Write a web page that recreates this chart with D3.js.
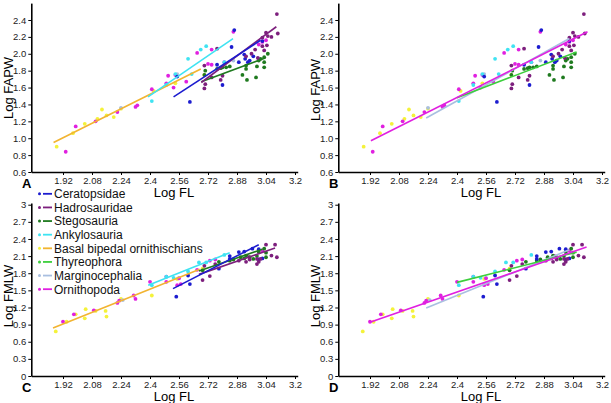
<!DOCTYPE html>
<html><head><meta charset="utf-8">
<script src="https://cdn.jsdelivr.net/npm/d3@7"></script>
<style>
body{margin:0;background:#fff;}
text{font-family:"Liberation Sans",Arial,sans-serif;}
</style></head>
<body><svg id="c" width="611" height="403"></svg>
<script>
// ---------- data ----------
const groups = ["Ceratopsidae","Hadrosauridae","Stegosauria","Ankylosauria","Basal bipedal ornithischians","Thyreophora","Marginocephalia","Ornithopoda"];
const pointColors = {"Ceratopsidae":"#1c1ccf","Hadrosauridae":"#7d1f7d","Stegosauria":"#1f7a1f","Ankylosauria":"#3fe3f2","Basal bipedal ornithischians":"#f4f23a","Thyreophora":"#3ccf3c","Marginocephalia":"#a9bfe0","Ornithopoda":"#e020e0"};
const lineColors  = {"Ceratopsidae":"#1c1ccf","Hadrosauridae":"#7d1f7d","Stegosauria":"#1f7a1f","Ankylosauria":"#3fe3f2","Basal bipedal ornithischians":"#f2b431","Thyreophora":"#3ccf3c","Marginocephalia":"#a9bfe0","Ornithopoda":"#e020e0"};

const xTickValues = [1.92,2.08,2.24,2.4,2.56,2.72,2.88,3.04,3.2];
const xTickLabels = ["1.92","2.08","2.24","2.4","2.56","2.72","2.88","3.04","3.2"];
const yTicksFAPW = [0.6,0.8,1.0,1.2,1.4,1.6,1.8,2.0,2.2,2.4];
const yLabelsFAPW = ["0.6","0.8","1.0","1.2","1.4","1.6","1.8","2.0","2.2","2.4"];
const yTicksFMLW = [0,0.3,0.6,0.9,1.2,1.5,1.8,2.1,2.4,2.7,3];
const yLabelsFMLW = ["0","0.3","0.6","0.9","1.2","1.5","1.8","2.1","2.4","2.7","3"];

// points: [log FL, log FAPW]
const fapwCeratopsidae = [[2.55,1.73],[2.62,1.43],[2.80,1.63],[2.77,1.87],[2.85,2.08],[2.865,2.28],[2.89,1.90],[2.92,1.99],[2.925,1.94],[2.94,1.90],[2.97,1.97],[3.02,2.15],[2.95,1.92]];
const fapwHadrosauridae = [[2.70,1.86],[2.70,1.59],[2.705,1.64],[2.77,2.06],[2.80,1.74],[2.79,1.69],[2.93,1.97],[2.96,2.0],[2.98,2.05],[2.995,1.95],[3.02,2.09],[3.02,2.19],[3.04,2.25],[3.05,2.21],[3.045,2.10],[3.10,2.47],[3.105,2.24],[3.07,2.20],[3.03,2.04],[2.74,1.72]];
const fapwStegosauria = [[2.70,1.75],[2.705,1.80],[2.77,1.82],[2.80,1.84],[2.82,1.84],[2.79,1.83],[2.91,1.75],[2.93,1.86],[2.93,1.82],[2.935,1.69],[2.985,1.72],[2.99,1.85],[3.0,1.92],[3.01,1.94],[3.03,1.96],[3.03,1.90],[3.03,1.84],[3.05,2.0],[2.84,1.85]];
const fapwAnkylosauria = [[2.41,1.44],[2.49,1.63],[2.61,1.94],[2.68,2.05],[2.71,2.09],[2.81,1.90],[2.54,1.76],[2.63,1.76]];
const fapwBasal = [[1.885,0.90],[1.975,1.06],[2.04,1.17],[2.11,1.23],[2.135,1.34],[2.16,1.27],[2.20,1.25],[2.24,1.35],[2.42,1.56],[2.54,1.65],[2.70,1.75]];
const fapwMarginocephalia = [[2.24,1.36],[2.55,1.76],[2.86,1.92]];
const fapwOrnithopoda = [[1.935,0.84],[1.99,1.14],[2.10,1.20],[2.22,1.31],[2.32,1.37],[2.33,1.39],[2.41,1.58],[2.49,1.65],[2.50,1.74],[2.54,1.75],[2.53,1.60],[2.60,1.67],[2.66,2.01],[2.74,2.05],[2.74,1.87],[2.81,1.90],[2.86,2.26],[3.0,2.11],[3.02,2.14],[3.04,2.16],[2.72,1.88]];

// points: [log FL, log FMLW]
const fmlwCeratopsidae = [[2.545,1.39],[2.62,1.61],[2.61,1.76],[2.84,2.05],[2.84,2.10],[2.89,2.17],[2.92,2.18],[2.965,2.23],[3.0,2.22],[3.02,2.06],[3.0,2.04],[2.78,1.88]];
const fmlwHadrosauridae = [[2.69,1.68],[2.73,1.75],[2.76,1.96],[2.70,1.93],[2.89,2.02],[2.99,1.96],[3.01,2.05],[3.04,2.30],[3.09,2.30],[3.10,2.08],[3.07,2.11],[2.95,2.04],[2.99,2.05],[3.0,2.0],[2.93,2.0]];
const fmlwStegosauria = [[2.69,1.85],[2.78,2.0],[2.84,2.02],[2.90,2.08],[2.93,2.11],[2.97,2.05],[3.0,2.17],[3.03,2.23],[3.04,2.16],[3.04,2.08],[2.99,2.10],[2.95,2.08],[2.92,2.06],[2.86,2.04]];
const fmlwAnkylosauria = [[2.41,1.59],[2.49,1.74],[2.61,1.83],[2.67,1.99],[2.71,1.99],[2.81,2.12],[2.53,1.72]];
const fmlwBasal = [[1.88,0.78],[1.94,0.95],[1.99,1.08],[2.04,1.01],[2.045,1.17],[2.10,1.14],[2.16,1.04],[2.155,1.14],[2.24,1.35],[2.41,1.41],[2.55,1.70],[2.69,1.88]];
const fmlwMarginocephalia = [[2.25,1.33],[2.56,1.72]];
const fmlwOrnithopoda = [[1.92,0.95],[1.98,1.08],[2.09,1.15],[2.22,1.28],[2.23,1.32],[2.31,1.41],[2.32,1.35],[2.40,1.65],[2.49,1.74],[2.49,1.65],[2.55,1.59],[2.56,1.71],[2.57,1.61],[2.66,1.86],[2.73,2.02],[2.76,2.04],[2.94,2.10],[3.02,2.20],[3.0,2.17]];

// regression lines: [group, x1, y1, x2, y2]
const linesA = [["Basal bipedal ornithischians",1.868,0.95,2.68,1.82],["Ankylosauria",2.389,1.49,2.858,2.18],["Stegosauria",2.683,1.67,3.036,1.95],["Hadrosauridae",2.683,1.66,3.097,2.32],["Ceratopsidae",2.53,1.49,3.01,2.16]];
const linesB = [["Marginocephalia",2.23,1.24,3.02,2.18],["Thyreophora",2.40,1.48,3.06,2.02],["Ornithopoda",1.925,0.97,3.12,2.26]];
const linesC = [["Basal bipedal ornithischians",1.865,0.84,2.674,1.87],["Ankylosauria",2.39,1.59,2.84,2.16],["Hadrosauridae",2.67,1.78,3.09,2.24],["Stegosauria",2.67,1.84,3.02,2.22],["Ceratopsidae",2.527,1.53,3.0,2.30]];
const linesD = [["Marginocephalia",2.23,1.19,3.02,2.21],["Thyreophora",2.40,1.64,3.06,2.17],["Ornithopoda",1.92,0.94,3.115,2.26]];

const fapwPoints = {"Basal bipedal ornithischians":fapwBasal,"Marginocephalia":fapwMarginocephalia,"Ornithopoda":fapwOrnithopoda,"Ankylosauria":fapwAnkylosauria,"Stegosauria":fapwStegosauria,"Ceratopsidae":fapwCeratopsidae,"Hadrosauridae":fapwHadrosauridae};
const fmlwPoints = {"Basal bipedal ornithischians":fmlwBasal,"Marginocephalia":fmlwMarginocephalia,"Ornithopoda":fmlwOrnithopoda,"Ankylosauria":fmlwAnkylosauria,"Stegosauria":fmlwStegosauria,"Ceratopsidae":fmlwCeratopsidae,"Hadrosauridae":fmlwHadrosauridae};

// ---------- drawing ----------
const svg = d3.select("#c");
const pxPerUnit = 181.25;

function panel(opt){
  const g = svg.append("g");
  const x0 = opt.left + 63;           // pixel of 1.92
  const xDom = [1.745, 3.215];
  const x = d3.scaleLinear().domain(xDom).range(xDom.map(v => x0 + (v - 1.92) * pxPerUnit));
  const y = d3.scaleLinear().domain(opt.yDom).range(opt.yRange);

  Object.keys(opt.points).forEach(k => {
    g.append("g").selectAll("circle").data(opt.points[k]).join("circle")
      .attr("cx", d => x(d[0])).attr("cy", d => y(d[1])).attr("r", 1.9)
      .attr("fill", pointColors[k]);
  });
  g.append("g").selectAll("line").data(opt.lines).join("line")
    .attr("x1", d => x(d[1])).attr("y1", d => y(d[2]))
    .attr("x2", d => x(d[3])).attr("y2", d => y(d[4]))
    .attr("stroke", d => lineColors[d[0]]).attr("stroke-width", 1.6);

  const xa = g.append("g").attr("transform", `translate(0,${y(opt.yDom[0])})`)
    .call(d3.axisBottom(x).tickValues(xTickValues).tickFormat((d,i)=>xTickLabels[i]).tickSizeInner(3).tickSizeOuter(0).tickPadding(2));
  const ya = g.append("g").attr("transform", `translate(${x(xDom[0])},0)`)
    .call(d3.axisLeft(y).tickValues(opt.yTicks).tickFormat((d,i)=>opt.yLabels[i]).tickSizeInner(3).tickSizeOuter(0).tickPadding(2));
  [xa, ya].forEach(a => {
    a.select(".domain").attr("stroke","#000").attr("stroke-width",1.6);
    a.selectAll(".tick line").attr("stroke","#000").attr("stroke-width",1);
    a.selectAll(".tick text").attr("font-size",9.5).attr("fill","#222").attr("font-family","Liberation Sans, Arial, sans-serif");
  });

  g.append("text").attr("x", opt.left + 174).attr("y", y(opt.yDom[0]) + 24.5)
    .attr("text-anchor","middle").attr("font-size",13).text("Log FL");
  g.append("text").attr("transform", `translate(${opt.left + 12.5},${opt.yTitleY}) rotate(-90)`)
    .attr("text-anchor","middle").attr("font-size",13).text(opt.yTitle);
  g.append("text").attr("x", opt.left + 22).attr("y", y(opt.yDom[0]) + 16)
    .attr("font-size",13).attr("font-weight","bold").text(opt.letter);
}

panel({left:0, yDom:[0.6,2.6], yRange:[172,3.1], yTicks:yTicksFAPW, yLabels:yLabelsFAPW, points:fapwPoints, lines:linesA, yTitle:"Log FAPW", yTitleY:88, letter:"A"});
panel({left:307, yDom:[0.6,2.6], yRange:[172,3.1], yTicks:yTicksFAPW, yLabels:yLabelsFAPW, points:fapwPoints, lines:linesB, yTitle:"Log FAPW", yTitleY:90, letter:"B"});
panel({left:0, yDom:[0,3.03], yRange:[376,203], yTicks:yTicksFMLW, yLabels:yLabelsFMLW, points:fmlwPoints, lines:linesC, yTitle:"Log FMLW", yTitleY:296, letter:"C"});
panel({left:307, yDom:[0,3.03], yRange:[376,203], yTicks:yTicksFMLW, yLabels:yLabelsFMLW, points:fmlwPoints, lines:linesD, yTitle:"Log FMLW", yTitleY:296, letter:"D"});

// legend
const leg = svg.append("g");
const legY = d3.scaleBand().domain(groups).range([187, 296]);
const items = leg.selectAll("g").data(groups).join("g")
  .attr("transform", d => `translate(0,${legY(d) + legY.bandwidth()/2})`);
items.append("line").attr("x1",43).attr("x2",52).attr("y1",0).attr("y2",0)
  .attr("stroke", d => lineColors[d]).attr("stroke-width",1.8);
items.append("circle").attr("cx",39.5).attr("cy",0).attr("r",1.5).attr("fill", d => pointColors[d]);
items.append("text").attr("x",54).attr("y",4.3).attr("font-size",12).attr("fill","#111").text(d => d);
</script></body></html>
